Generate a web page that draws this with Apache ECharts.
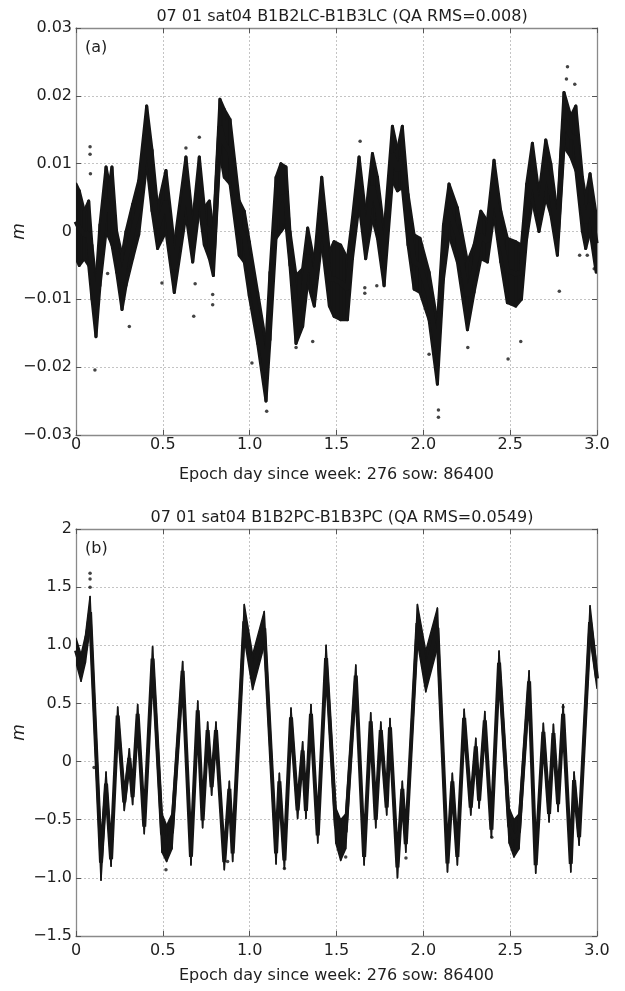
<!DOCTYPE html>
<html><head><meta charset="utf-8">
<script src="https://cdn.jsdelivr.net/npm/echarts@6/dist/echarts.min.js"></script>
<style>html,body{margin:0;padding:0;background:#fff}#c{width:625px;height:991px}</style>
</head><body><div id="c"></div>
<script>
// ---------- Panel (a): B1B2LC-B1B3LC, envelope of the point cloud (m) ----------
const a_x  = [0.000,0.019,0.048,0.073,0.092,0.115,0.138,0.173,0.192,0.207,0.234,0.265,0.288,0.326,0.361,0.407,0.438,0.470,0.518,0.566,0.633,0.672,0.710,0.739,0.768,0.791,0.829,0.854,0.887,0.940,0.969,0.998,1.046,1.094,1.117,1.152,1.180,1.209,1.232,1.267,1.305,1.334,1.372,1.415,1.459,1.486,1.524,1.563,1.592,1.630,1.668,1.707,1.736,1.774,1.822,1.851,1.879,1.912,1.947,1.981,2.033,2.081,2.116,2.148,2.196,2.254,2.292,2.331,2.369,2.407,2.446,2.484,2.532,2.565,2.595,2.628,2.666,2.705,2.734,2.772,2.810,2.849,2.878,2.916,2.935,2.960,2.995];
const a_lo = [-0.004,-0.005,-0.004,-0.005,-0.010,-0.0155,-0.008,0.000,-0.001,-0.002,-0.006,-0.0115,-0.008,-0.004,-0.0005,0.010,0.003,-0.0025,0.000,-0.009,0.0025,-0.0045,0.0035,-0.002,-0.004,-0.0065,0.0115,0.008,0.007,-0.0035,-0.0045,-0.0095,-0.0165,-0.025,-0.016,-0.001,0.000,0.001,-0.005,-0.0165,-0.014,-0.0075,-0.011,-0.0015,-0.011,-0.0125,-0.013,-0.013,-0.004,0.004,-0.004,0.002,-0.001,-0.008,0.0075,0.006,0.0065,-0.002,-0.0085,-0.009,-0.013,-0.0225,-0.007,-0.0005,-0.0045,-0.0145,-0.009,-0.004,-0.0045,0.0025,-0.0045,-0.0105,-0.011,-0.010,-0.001,0.0045,0.000,0.005,0.0025,-0.0035,0.0125,0.011,0.009,0.000,-0.0025,0.000,-0.006];
const a_hi = [0.007,0.006,0.003,0.0045,-0.002,-0.0075,0.001,0.0095,0.007,0.0095,0.000,-0.0035,0.000,0.004,0.0075,0.0185,0.012,0.0035,0.009,-0.002,0.011,0.0015,0.011,0.0035,0.0045,0.000,0.0195,0.018,0.0165,0.0045,0.003,-0.0015,-0.009,-0.0165,-0.006,0.008,0.010,0.0095,0.000,-0.0065,-0.0055,0.0005,-0.0045,0.008,-0.003,-0.0015,-0.002,-0.004,0.002,0.011,0.0025,0.0115,0.008,0.000,0.0155,0.012,0.0155,0.0055,-0.0005,-0.001,-0.006,-0.0135,0.001,0.007,0.0035,-0.0045,-0.002,0.003,0.0015,0.0105,0.003,-0.001,-0.0015,-0.002,0.007,0.013,0.0055,0.0135,0.010,0.0025,0.0205,0.017,0.0185,0.008,0.005,0.0085,0.0025];
const a_outX = [0.081,0.081,0.083,0.109,0.182,0.307,0.495,0.633,0.678,0.686,0.710,0.787,0.787,1.013,1.098,1.267,1.363,1.636,1.663,1.663,1.732,2.033,2.087,2.087,2.256,2.488,2.561,2.783,2.830,2.824,2.872,2.900,2.944,2.984];
const a_outY = [0.0125,0.0114,0.0085,-0.0204,-0.0062,-0.0140,-0.0076,0.0123,-0.0125,-0.0077,0.0139,-0.0093,-0.0108,-0.0194,-0.0265,-0.0171,-0.0162,0.0133,-0.0083,-0.0091,-0.0080,-0.0181,-0.0263,-0.0274,-0.0171,-0.0188,-0.0162,-0.0088,0.0243,0.0225,0.0217,-0.0035,-0.0035,-0.0055];

// ---------- Panel (b): B1B2PC-B1B3PC, envelope of the point cloud (m) ----------
const b_x  = [0.000,0.029,0.054,0.081,0.144,0.173,0.202,0.240,0.278,0.307,0.326,0.355,0.393,0.441,0.495,0.522,0.553,0.614,0.662,0.701,0.729,0.758,0.781,0.806,0.854,0.883,0.902,0.969,1.017,1.084,1.152,1.171,1.200,1.238,1.276,1.305,1.324,1.353,1.392,1.440,1.496,1.524,1.553,1.611,1.659,1.697,1.726,1.755,1.789,1.808,1.851,1.879,1.899,1.966,2.014,2.081,2.139,2.167,2.196,2.235,2.273,2.302,2.321,2.354,2.392,2.436,2.494,2.522,2.551,2.609,2.647,2.691,2.724,2.749,2.776,2.805,2.849,2.868,2.897,2.960,3.000];
const b_lo = [0.85,0.69,0.85,1.15,-1.02,-0.29,-0.90,0.32,-0.42,-0.05,-0.37,0.33,-0.62,0.78,-0.78,-0.86,-0.75,0.70,-0.89,0.36,-0.57,0.20,-0.29,0.20,-0.93,-0.30,-0.86,1.06,0.62,1.00,-0.88,-0.24,-0.92,0.30,-0.49,0.02,-0.49,0.33,-0.70,0.78,-0.70,-0.85,-0.75,0.65,-0.89,0.27,-0.57,0.20,-0.46,0.22,-1.00,-0.30,-0.78,1.03,0.60,0.98,-0.95,-0.24,-0.89,0.30,-0.46,0.06,-0.40,0.28,-0.65,0.75,-0.70,-0.82,-0.75,0.60,-0.96,0.18,-0.52,0.17,-0.43,0.33,-0.95,-0.23,-0.72,1.06,0.63];
const b_hi = [1.06,0.92,1.08,1.42,-0.72,-0.09,-0.78,0.47,-0.28,0.11,-0.24,0.49,-0.50,0.99,-0.45,-0.55,-0.45,0.86,-0.75,0.52,-0.44,0.34,-0.15,0.34,-0.80,-0.17,-0.72,1.35,0.92,1.29,-0.70,-0.10,-0.78,0.46,-0.35,0.17,-0.36,0.49,-0.57,1.00,-0.40,-0.50,-0.45,0.83,-0.75,0.42,-0.43,0.34,-0.33,0.37,-0.82,-0.17,-0.64,1.35,0.95,1.32,-0.80,-0.10,-0.75,0.45,-0.33,0.20,-0.27,0.43,-0.52,0.95,-0.40,-0.50,-0.45,0.78,-0.82,0.33,-0.38,0.32,-0.30,0.49,-0.81,-0.09,-0.58,1.34,0.80];
const b_outX = [0.081,0.081,0.081,0.518,0.873,1.200,1.553,1.900,2.394,2.805,0.104,1.046];
const b_outY = [1.62,1.57,1.50,-0.93,-0.86,-0.92,-0.82,-0.83,-0.65,0.47,-0.05,0.86];

// ---------- axis ticks and labels ----------
const xTickVals   = [0,0.5,1,1.5,2,2.5,3];
const xTickLabels = ['0','0.5','1.0','1.5','2.0','2.5','3.0'];
const aTickVals   = [-0.03,-0.02,-0.01,0,0.01,0.02,0.03];
const aTickLabels = ['\u22120.03','\u22120.02','\u22120.01','0','0.01','0.02','0.03'];
const bTickVals   = [-1.5,-1,-0.5,0,0.5,1,1.5,2];
const bTickLabels = ['\u22121.5','\u22121.0','\u22120.5','0','0.5','1.0','1.5','2'];
const titleA = '07 01 sat04 B1B2LC-B1B3LC (QA RMS=0.008)';
const titleB = '07 01 sat04 B1B2PC-B1B3PC (QA RMS=0.0549)';
const xName  = 'Epoch day since week: 276 sow: 86400';

function lab(vals, labels){
  return function(v){
    for (let i=0;i<vals.length;i++) if (Math.abs(vals[i]-v)<1e-9) return labels[i];
    return '';
  };
}
function segs(xs, lo, hi){
  const out=[];
  for (let i=0;i<xs.length-1;i++) out.push([xs[i],lo[i],hi[i],xs[i+1],lo[i+1],hi[i+1]]);
  return out;
}
function mids(xs, lo, hi){ return xs.map((x,i)=>[x,(lo[i]+hi[i])/2]); }
function pts(xs, ys){ return xs.map((x,i)=>[x,ys[i]]); }

const INK='#151515', FRAME='#8a8a8a', GRIDC='#c4c4c4', TXT='#1e1e1e';
const FONT='DejaVu Sans';

function makeBand(sw){
  return function(params, api){
    const a=api.coord([api.value(0),api.value(1)]);
    const b=api.coord([api.value(3),api.value(4)]);
    const c=api.coord([api.value(3),api.value(5)]);
    const d=api.coord([api.value(0),api.value(2)]);
    return {type:'polygon', shape:{points:[a,b,c,d]}, style:{fill:INK, stroke:INK, lineWidth:sw, lineJoin:'round'}};
  };
}

function xAx(gi, margin){
  return [{
    type:'value', gridIndex:gi, min:0, max:3, interval:0.5, position:'bottom',
    axisLine:{show:true,onZero:false,lineStyle:{color:FRAME,width:1.3}},
    axisTick:{show:true,inside:true,length:5,lineStyle:{color:'#555'}},
    axisLabel:{show:true,margin:margin,color:TXT,fontSize:16,fontFamily:FONT,formatter:lab(xTickVals,xTickLabels)},
    splitLine:{show:true,lineStyle:{color:GRIDC,type:[2,2],width:1}},
    name:xName, nameLocation:'middle', nameGap:32, nameMoveOverlap:false,
    nameTextStyle:{color:TXT,fontSize:16,fontFamily:FONT,verticalAlign:'top'}
  },{
    type:'value', gridIndex:gi, min:0, max:3, interval:0.5, position:'top',
    axisLine:{show:true,onZero:false,lineStyle:{color:FRAME,width:1.3}},
    axisTick:{show:true,inside:true,length:5,lineStyle:{color:'#555'}},
    axisLabel:{show:false}, splitLine:{show:false}
  }];
}
function yAx(gi, min, max, interval, vals, labels){
  return [{
    type:'value', gridIndex:gi, min:min, max:max, interval:interval, position:'left',
    axisLine:{show:true,onZero:false,lineStyle:{color:FRAME,width:1.3}},
    axisTick:{show:true,inside:true,length:5,lineStyle:{color:'#555'}},
    axisLabel:{show:true,margin:4,color:TXT,fontSize:16,fontFamily:FONT,formatter:lab(vals,labels)},
    splitLine:{show:true,lineStyle:{color:GRIDC,type:[2,2],width:1}},
    name:'m', nameLocation:'middle', nameGap:48, nameRotate:90, nameMoveOverlap:false,
    nameTextStyle:{color:TXT,fontSize:17,fontFamily:FONT,fontStyle:'italic'}
  },{
    type:'value', gridIndex:gi, min:min, max:max, interval:interval, position:'right',
    axisLine:{show:true,onZero:false,lineStyle:{color:FRAME,width:1.3}},
    axisTick:{show:true,inside:true,length:5,lineStyle:{color:'#555'}},
    axisLabel:{show:false}, splitLine:{show:false}
  }];
}

const chart = echarts.init(document.getElementById('c'), null, {renderer:'canvas'});
chart.setOption({
  animation:false,
  backgroundColor:'#fff',
  title:[
    {text:titleA, left:337, top:4, textAlign:'center', textStyle:{color:TXT,fontSize:16,fontWeight:'normal',fontFamily:FONT}},
    {text:titleB, left:337, top:505, textAlign:'center', textStyle:{color:TXT,fontSize:16,fontWeight:'normal',fontFamily:FONT}}
  ],
  grid:[
    {left:76, top:28, width:521, height:407, containLabel:false, outerBoundsMode:'none'},
    {left:76, top:529, width:521, height:407, containLabel:false, outerBoundsMode:'none'}
  ],
  xAxis:[].concat(xAx(0,2), xAx(1,7)),
  yAxis:[].concat(yAx(0,-0.03,0.03,0.01,aTickVals,aTickLabels), yAx(1,-1.5,2,0.5,bTickVals,bTickLabels)),
  graphic:[
    {type:'text', left:85, top:40, style:{text:'(a)', fill:TXT, font:'16px "DejaVu Sans"'}},
    {type:'text', left:85, top:541, style:{text:'(b)', fill:TXT, font:'16px "DejaVu Sans"'}}
  ],
  series:[
    {type:'custom', xAxisIndex:0, yAxisIndex:0, renderItem:makeBand(3), data:segs(a_x,a_lo,a_hi), encode:{x:[0,3],y:[1,2,4,5]}, clip:true, silent:true},
    {type:'line', xAxisIndex:0, yAxisIndex:0, data:mids(a_x,a_lo,a_hi), showSymbol:false, lineStyle:{color:INK,width:5}, silent:true},
    {type:'scatter', xAxisIndex:0, yAxisIndex:0, data:pts(a_outX,a_outY), symbolSize:3.5, itemStyle:{color:INK}, silent:true},
    {type:'custom', xAxisIndex:2, yAxisIndex:2, renderItem:makeBand(1.5), data:segs(b_x,b_lo,b_hi), encode:{x:[0,3],y:[1,2,4,5]}, clip:true, silent:true},
    {type:'line', xAxisIndex:2, yAxisIndex:2, data:mids(b_x,b_lo,b_hi), showSymbol:false, lineStyle:{color:INK,width:4}, silent:true},
    {type:'scatter', xAxisIndex:2, yAxisIndex:2, data:pts(b_outX,b_outY), symbolSize:3.5, itemStyle:{color:INK}, silent:true}
  ]
});
</script></body></html>
